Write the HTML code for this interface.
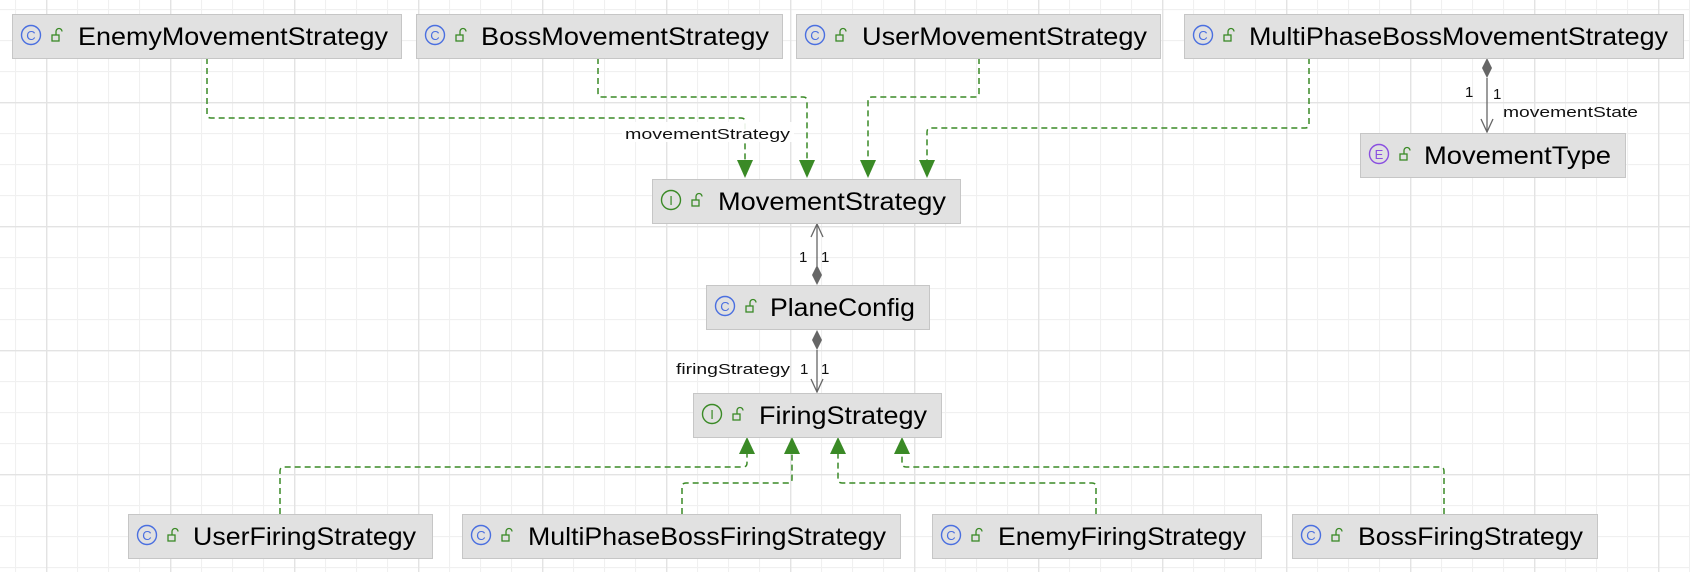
<!DOCTYPE html>
<html><head><meta charset="utf-8"><style>
html,body{margin:0;padding:0;background:#fff;}
svg{display:block;}
text{font-family:"Liberation Sans",sans-serif;}
</style></head><body>
<svg width="1690" height="572" viewBox="0 0 1690 572" xmlns="http://www.w3.org/2000/svg">
<defs>
<pattern id="gmin" width="31" height="31" patternUnits="userSpaceOnUse" x="15" y="9">
<path d="M0 0.5H31M0.5 0V31" stroke="#f0f0f0" stroke-width="1.2" fill="none"/>
</pattern>
<pattern id="gmaj" width="124" height="124" patternUnits="userSpaceOnUse" x="46" y="102">
<path d="M0 0.5H124M0.5 0V124" stroke="#e3e3e3" stroke-width="1.8" fill="none"/>
</pattern>
</defs>
<rect width="1690" height="572" fill="#fff"/>
<rect width="1690" height="572" fill="url(#gmin)"/>
<rect width="1690" height="572" fill="url(#gmaj)"/>

<!-- dashed realization lines -->
<g fill="none" stroke="#3a8a26" stroke-width="1.5" stroke-dasharray="6,4">
<path d="M207 58V114Q207 118 211 118H741Q745 118 745 122V162"/>
<path d="M598 58V93Q598 97 602 97H803Q807 97 807 101V162"/>
<path d="M979 58V93Q979 97 975 97H872Q868 97 868 101V162"/>
<path d="M1309 58V124Q1309 128 1305 128H931Q927 128 927 132V162"/>
<path d="M280 514V471Q280 467 284 467H743Q747 467 747 463V452"/>
<path d="M682 514V487Q682 483 686 483H788Q792 483 792 479V452"/>
<path d="M1096 514V487Q1096 483 1092 483H842Q838 483 838 479V452"/>
<path d="M1444 514V471Q1444 467 1440 467H906Q902 467 902 463V452"/>
</g>
<g fill="#3a8a26">
<path d="M737 160H753L745 178Z"/>
<path d="M799 160H815L807 178Z"/>
<path d="M860 160H876L868 178Z"/>
<path d="M919 160H935L927 178Z"/>
<path d="M739 454H755L747 437Z"/>
<path d="M784 454H800L792 437Z"/>
<path d="M830 454H846L838 437Z"/>
<path d="M894 454H910L902 437Z"/>
</g>

<!-- composition -->
<g stroke="#666" stroke-width="1.3" fill="none">
<path d="M817 224V266"/><path d="M811 237L817 224L823 237"/>
<path d="M817 350V392"/><path d="M811 379L817 392L823 379"/>
<path d="M1487 78V132"/><path d="M1481 119L1487 132L1493 119"/>
</g>
<g fill="#666">
<path d="M817 265L822 275L817 285L812 275Z"/>
<path d="M817 330L822 340L817 350L812 340Z"/>
<path d="M1487 58L1492 68L1487 78L1482 68Z"/>
</g>

<!-- labels -->
<g font-size="15" fill="#111">
<rect x="622" y="122" width="172" height="20" fill="#fff" opacity="0.9"/>
<text x="625" y="139" textLength="165" lengthAdjust="spacingAndGlyphs">movementStrategy</text>
<text x="799" y="262">1</text><text x="821" y="262">1</text>
<text x="676" y="374" textLength="114" lengthAdjust="spacingAndGlyphs">firingStrategy</text>
<text x="800" y="374">1</text><text x="821" y="374">1</text>
<text x="1465" y="97">1</text><text x="1493" y="99">1</text>
<text x="1503" y="117" textLength="135" lengthAdjust="spacingAndGlyphs">movementState</text>
</g>

<!-- boxes -->
<g font-size="25" fill="#000">
<!-- helper: box, icon circle, lock, text -->
<g>
<rect x="12.5" y="14.5" width="389" height="44" fill="#e1e1e1" stroke="#c6c6c6"/>
<circle cx="31" cy="35" r="9.5" fill="none" stroke="#4a6fe0" stroke-width="1.4"/><text x="31" y="40" font-size="13" fill="#4a6fe0" text-anchor="middle">C</text>
<rect x="52" y="35" width="7" height="6" fill="none" stroke="#3a8a26" stroke-width="1.3"/><path d="M56 35V31.5a3 3 0 0 1 6 0" fill="none" stroke="#3a8a26" stroke-width="1.3"/>
<text x="78" y="45" textLength="310" lengthAdjust="spacingAndGlyphs">EnemyMovementStrategy</text>
</g>
<g>
<rect x="416.5" y="14.5" width="366" height="44" fill="#e1e1e1" stroke="#c6c6c6"/>
<circle cx="435" cy="35" r="9.5" fill="none" stroke="#4a6fe0" stroke-width="1.4"/><text x="435" y="40" font-size="13" fill="#4a6fe0" text-anchor="middle">C</text>
<rect x="456" y="35" width="7" height="6" fill="none" stroke="#3a8a26" stroke-width="1.3"/><path d="M460 35V31.5a3 3 0 0 1 6 0" fill="none" stroke="#3a8a26" stroke-width="1.3"/>
<text x="481" y="45" textLength="288" lengthAdjust="spacingAndGlyphs">BossMovementStrategy</text>
</g>
<g>
<rect x="796.5" y="14.5" width="364" height="44" fill="#e1e1e1" stroke="#c6c6c6"/>
<circle cx="815" cy="35" r="9.5" fill="none" stroke="#4a6fe0" stroke-width="1.4"/><text x="815" y="40" font-size="13" fill="#4a6fe0" text-anchor="middle">C</text>
<rect x="836" y="35" width="7" height="6" fill="none" stroke="#3a8a26" stroke-width="1.3"/><path d="M840 35V31.5a3 3 0 0 1 6 0" fill="none" stroke="#3a8a26" stroke-width="1.3"/>
<text x="862" y="45" textLength="285" lengthAdjust="spacingAndGlyphs">UserMovementStrategy</text>
</g>
<g>
<rect x="1184.5" y="14.5" width="499" height="44" fill="#e1e1e1" stroke="#c6c6c6"/>
<circle cx="1203" cy="35" r="9.5" fill="none" stroke="#4a6fe0" stroke-width="1.4"/><text x="1203" y="40" font-size="13" fill="#4a6fe0" text-anchor="middle">C</text>
<rect x="1224" y="35" width="7" height="6" fill="none" stroke="#3a8a26" stroke-width="1.3"/><path d="M1228 35V31.5a3 3 0 0 1 6 0" fill="none" stroke="#3a8a26" stroke-width="1.3"/>
<text x="1249" y="45" textLength="419" lengthAdjust="spacingAndGlyphs">MultiPhaseBossMovementStrategy</text>
</g>
<g>
<rect x="1360.5" y="133.5" width="265" height="44" fill="#e1e1e1" stroke="#c6c6c6"/>
<circle cx="1379" cy="154" r="9.5" fill="none" stroke="#8a4fe0" stroke-width="1.4"/><text x="1379" y="159" font-size="13" fill="#8a4fe0" text-anchor="middle">E</text>
<rect x="1400" y="154" width="7" height="6" fill="none" stroke="#3a8a26" stroke-width="1.3"/><path d="M1404 154V150.5a3 3 0 0 1 6 0" fill="none" stroke="#3a8a26" stroke-width="1.3"/>
<text x="1424" y="164" textLength="187" lengthAdjust="spacingAndGlyphs">MovementType</text>
</g>
<g>
<rect x="652.5" y="179.5" width="308" height="44" fill="#e1e1e1" stroke="#c6c6c6"/>
<circle cx="671" cy="200" r="9.5" fill="none" stroke="#3a8a26" stroke-width="1.4"/><text x="671" y="205" font-size="13" fill="#3a8a26" text-anchor="middle">I</text>
<rect x="692" y="200" width="7" height="6" fill="none" stroke="#3a8a26" stroke-width="1.3"/><path d="M696 200V196.5a3 3 0 0 1 6 0" fill="none" stroke="#3a8a26" stroke-width="1.3"/>
<text x="718" y="210" textLength="228" lengthAdjust="spacingAndGlyphs">MovementStrategy</text>
</g>
<g>
<rect x="706.5" y="285.5" width="223" height="44" fill="#e1e1e1" stroke="#c6c6c6"/>
<circle cx="725" cy="306" r="9.5" fill="none" stroke="#4a6fe0" stroke-width="1.4"/><text x="725" y="311" font-size="13" fill="#4a6fe0" text-anchor="middle">C</text>
<rect x="746" y="306" width="7" height="6" fill="none" stroke="#3a8a26" stroke-width="1.3"/><path d="M750 306V302.5a3 3 0 0 1 6 0" fill="none" stroke="#3a8a26" stroke-width="1.3"/>
<text x="770" y="316" textLength="145" lengthAdjust="spacingAndGlyphs">PlaneConfig</text>
</g>
<g>
<rect x="693.5" y="393.5" width="248" height="44" fill="#e1e1e1" stroke="#c6c6c6"/>
<circle cx="712" cy="414" r="9.5" fill="none" stroke="#3a8a26" stroke-width="1.4"/><text x="712" y="419" font-size="13" fill="#3a8a26" text-anchor="middle">I</text>
<rect x="733" y="414" width="7" height="6" fill="none" stroke="#3a8a26" stroke-width="1.3"/><path d="M737 414V410.5a3 3 0 0 1 6 0" fill="none" stroke="#3a8a26" stroke-width="1.3"/>
<text x="759" y="424" textLength="168" lengthAdjust="spacingAndGlyphs">FiringStrategy</text>
</g>
<g>
<rect x="128.5" y="514.5" width="304" height="44" fill="#e1e1e1" stroke="#c6c6c6"/>
<circle cx="147" cy="535" r="9.5" fill="none" stroke="#4a6fe0" stroke-width="1.4"/><text x="147" y="540" font-size="13" fill="#4a6fe0" text-anchor="middle">C</text>
<rect x="168" y="535" width="7" height="6" fill="none" stroke="#3a8a26" stroke-width="1.3"/><path d="M172 535V531.5a3 3 0 0 1 6 0" fill="none" stroke="#3a8a26" stroke-width="1.3"/>
<text x="193" y="545" textLength="223" lengthAdjust="spacingAndGlyphs">UserFiringStrategy</text>
</g>
<g>
<rect x="462.5" y="514.5" width="438" height="44" fill="#e1e1e1" stroke="#c6c6c6"/>
<circle cx="481" cy="535" r="9.5" fill="none" stroke="#4a6fe0" stroke-width="1.4"/><text x="481" y="540" font-size="13" fill="#4a6fe0" text-anchor="middle">C</text>
<rect x="502" y="535" width="7" height="6" fill="none" stroke="#3a8a26" stroke-width="1.3"/><path d="M506 535V531.5a3 3 0 0 1 6 0" fill="none" stroke="#3a8a26" stroke-width="1.3"/>
<text x="528" y="545" textLength="358" lengthAdjust="spacingAndGlyphs">MultiPhaseBossFiringStrategy</text>
</g>
<g>
<rect x="932.5" y="514.5" width="329" height="44" fill="#e1e1e1" stroke="#c6c6c6"/>
<circle cx="951" cy="535" r="9.5" fill="none" stroke="#4a6fe0" stroke-width="1.4"/><text x="951" y="540" font-size="13" fill="#4a6fe0" text-anchor="middle">C</text>
<rect x="972" y="535" width="7" height="6" fill="none" stroke="#3a8a26" stroke-width="1.3"/><path d="M976 535V531.5a3 3 0 0 1 6 0" fill="none" stroke="#3a8a26" stroke-width="1.3"/>
<text x="998" y="545" textLength="248" lengthAdjust="spacingAndGlyphs">EnemyFiringStrategy</text>
</g>
<g>
<rect x="1292.5" y="514.5" width="305" height="44" fill="#e1e1e1" stroke="#c6c6c6"/>
<circle cx="1311" cy="535" r="9.5" fill="none" stroke="#4a6fe0" stroke-width="1.4"/><text x="1311" y="540" font-size="13" fill="#4a6fe0" text-anchor="middle">C</text>
<rect x="1332" y="535" width="7" height="6" fill="none" stroke="#3a8a26" stroke-width="1.3"/><path d="M1336 535V531.5a3 3 0 0 1 6 0" fill="none" stroke="#3a8a26" stroke-width="1.3"/>
<text x="1358" y="545" textLength="225" lengthAdjust="spacingAndGlyphs">BossFiringStrategy</text>
</g>
</g>
</svg>
</body></html>
